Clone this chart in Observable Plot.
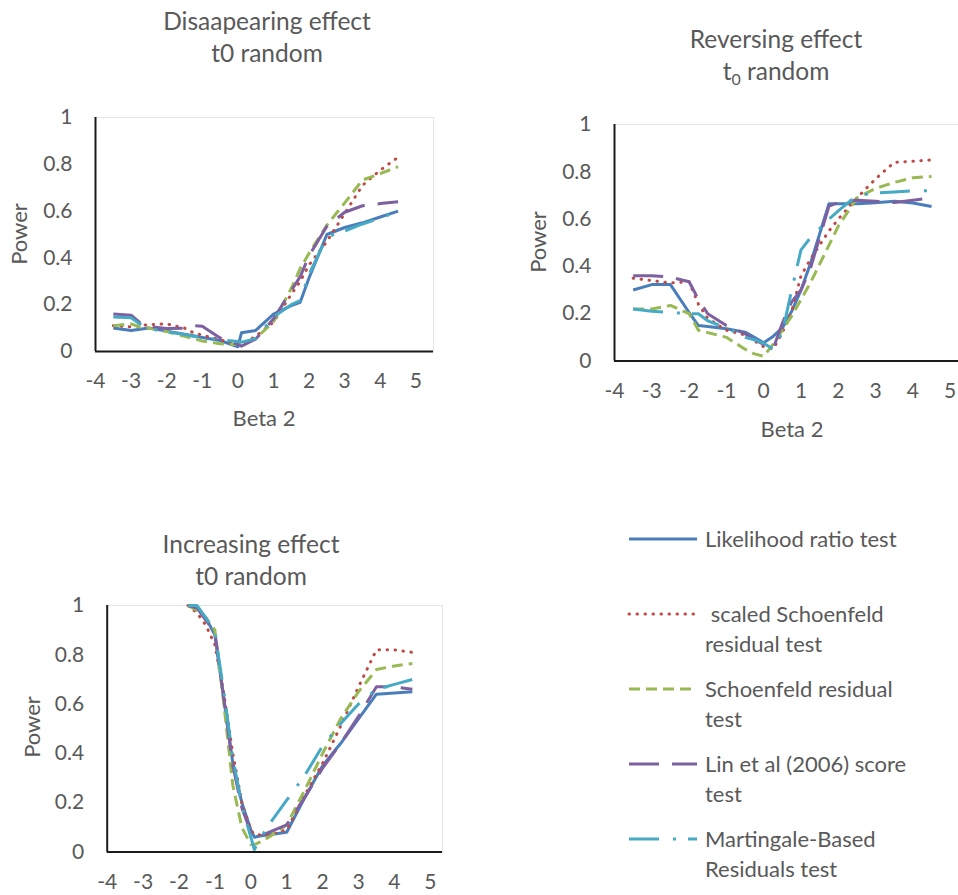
<!DOCTYPE html>
<html>
<head>
<meta charset="utf-8">
<script src="https://cdn.jsdelivr.net/npm/d3@7"></script>
<script src="https://cdn.jsdelivr.net/npm/@observablehq/plot@0.6"></script>
<style>
  body { margin: 0; background: #fff; }
  #page { position: relative; width: 958px; height: 895px; overflow: hidden; background: #fff;
          font-family: Lato, "Open Sans", sans-serif; color: #595959; }
  #page > svg, #page > div { position: absolute; }
  #overlay { left: 0; top: 0; pointer-events: none; }
</style>
</head>
<body>
<div id="page"></div>
<script>
// ---------------- data ----------------
const seriesNames = ["Likelihood ratio test", " scaled Schoenfeld residual test", "Schoenfeld residual test",
                     "Lin et al (2006) score test", "Martingale-Based Residuals test"];
const seriesColors = ["#4A7EBB", "#BE4B48", "#98B954", "#7D60A0", "#46AAC5"];
const seriesDash = ["none", "0.5,7.5", "11,6", "30,13", "30,14,3,12"];

const xTicks = [-4, -3, -2, -1, 0, 1, 2, 3, 4, 5];
const yTicks = [0, 0.2, 0.4, 0.6, 0.8, 1];

// Disappearing effect, t0 random
const xDis = [-3.5, -3, -2.75, -2.5, -2, -1.5, -1.25, -1, -0.5, 0, 0.1, 0.5, 1, 1.5, 1.75, 2, 2.5, 3, 3.5, 4, 4.5];
const disLRT    = [0.10, 0.09, 0.095, 0.10, 0.087, 0.074, 0.067, 0.06, 0.047, 0.02, 0.08, 0.09, 0.16, 0.196, 0.21, 0.315, 0.50, 0.53, 0.55, 0.575, 0.60];
const disScaled = [0.11, 0.105, 0.11, 0.115, 0.118, 0.10, 0.08, 0.07, 0.05, 0.03, 0.03, 0.065, 0.125, 0.245, 0.30, 0.37, 0.47, 0.59, 0.71, 0.775, 0.83];
const disSchoen = [0.11, 0.118, 0.104, 0.10, 0.085, 0.065, 0.055, 0.045, 0.033, 0.03, 0.032, 0.055, 0.127, 0.27, 0.355, 0.42, 0.54, 0.635, 0.733, 0.76, 0.79];
const disLin    = [0.16, 0.155, 0.123, 0.106, 0.098, 0.10, 0.11, 0.108, 0.058, 0.03, 0.023, 0.053, 0.14, 0.26, 0.32, 0.41, 0.535, 0.595, 0.623, 0.632, 0.64];
const disMart   = [0.147, 0.144, 0.118, 0.098, 0.085, 0.073, 0.065, 0.06, 0.05, 0.043, 0.04, 0.055, 0.148, 0.20, 0.218, 0.33, 0.49, 0.515, 0.545, 0.57, 0.60];

// Reversing effect, t0 random
const xRev = [-3.5, -3, -2.5, -2, -1.75, -1.5, -1, -0.5, -0.25, 0, 0.25, 0.5, 0.75, 1, 1.25, 1.75, 2, 2.5, 3, 3.5, 4, 4.5];
const revLRT    = [0.30, 0.323, 0.323, 0.205, 0.15, 0.146, 0.136, 0.122, 0.10, 0.077, 0.104, 0.14, 0.21, 0.30, 0.41, 0.665, 0.665, 0.665, 0.669, 0.675, 0.668, 0.653];
const revScaled = [0.35, 0.34, 0.33, 0.335, 0.24, 0.18, 0.13, 0.11, 0.085, 0.06, 0.05, 0.12, 0.21, 0.36, 0.43, 0.55, 0.60, 0.69, 0.77, 0.84, 0.845, 0.85];
const revSchoen = [0.22, 0.22, 0.235, 0.20, 0.13, 0.12, 0.10, 0.05, 0.03, 0.02, 0.07, 0.13, 0.19, 0.26, 0.33, 0.49, 0.57, 0.69, 0.73, 0.755, 0.775, 0.78];
const revLin    = [0.36, 0.36, 0.355, 0.335, 0.26, 0.20, 0.15, 0.115, 0.09, 0.07, 0.05, 0.16, 0.25, 0.30, 0.39, 0.655, 0.67, 0.68, 0.675, 0.67, 0.68, 0.69];
const revMart   = [0.22, 0.21, 0.205, 0.20, 0.20, 0.17, 0.14, 0.10, 0.09, 0.075, 0.05, 0.12, 0.30, 0.47, 0.52, 0.60, 0.635, 0.70, 0.71, 0.715, 0.72, 0.72];

// Increasing effect, t0 random
const xInc = [-1.75, -1.5, -1.25, -1, -0.75, -0.5, -0.25, 0, 0.1, 0.25, 0.5, 1, 1.5, 2, 2.5, 3, 3.5, 4, 4.5];
const incLRT    = [1.0, 0.99, 0.95, 0.88, 0.62, 0.36, 0.20, 0.09, 0.06, 0.065, 0.07, 0.08, 0.22, 0.35, 0.44, 0.54, 0.64, 0.645, 0.65];
const incScaled = [1.0, 0.97, 0.92, 0.84, 0.64, 0.40, 0.20, 0.09, 0.07, 0.07, 0.07, 0.09, 0.23, 0.36, 0.51, 0.67, 0.82, 0.82, 0.81];
const incSchoen = [1.0, 0.98, 0.95, 0.90, 0.60, 0.27, 0.10, 0.03, 0.03, 0.04, 0.06, 0.11, 0.25, 0.40, 0.54, 0.65, 0.74, 0.755, 0.765];
const incLin    = [1.0, 0.99, 0.94, 0.89, 0.62, 0.35, 0.18, 0.08, 0.06, 0.065, 0.08, 0.11, 0.22, 0.34, 0.44, 0.55, 0.67, 0.67, 0.66];
const incMart   = [1.0, 1.0, 0.95, 0.89, 0.65, 0.38, 0.19, 0.06, 0.01, 0.05, 0.11, 0.21, 0.31, 0.43, 0.52, 0.60, 0.66, 0.68, 0.70];

// ---------------- build ----------------
const page = document.getElementById("page");
const FONT = 'Lato, "Open Sans", sans-serif';
const TXT = "#595959";

function panel(xs, ys, box) {
  const data = [];
  ys.forEach((arr, si) => arr.forEach((v, i) => data.push({x: xs[i], y: v, s: si})));
  const marks = [
    Plot.frame({stroke: "#e4e4e4", strokeWidth: 1}),
    Plot.axisY({ticks: yTicks, tickFormat: d => String(d), tickSize: 0, tickPadding: 23, fontSize: 21, label: null}),
    Plot.axisX({ticks: xTicks, tickFormat: d => String(d), tickSize: 0, tickPadding: 22, fontSize: 21, label: null}),
  ];
  ys.forEach((arr, si) => {
    marks.push(Plot.line(data.filter(d => d.s === si), {
      x: "x", y: "y", stroke: seriesColors[si], strokeWidth: 3,
      strokeDasharray: seriesDash[si] === "none" ? undefined : seriesDash[si],
      strokeLinecap: si === 1 ? "round" : "butt", strokeLinejoin: "round"
    }));
  });
  marks.push(Plot.ruleX([-4], {stroke: "#1a1a1a", strokeWidth: 2}));
  marks.push(Plot.ruleY([0], {stroke: "#1a1a1a", strokeWidth: 2}));
  const svg = Plot.plot({
    width: box.w, height: box.h,
    marginLeft: box.ml, marginRight: box.mr, marginTop: box.mt, marginBottom: box.mb,
    x: {domain: [-4, box.xmax]},
    y: {domain: [0, 1]},
    style: {fontFamily: FONT, color: TXT, background: "transparent", overflow: "visible"},
    marks
  });
  svg.style.left = box.left + "px";
  svg.style.top = box.top + "px";
  page.appendChild(svg);
}

// plot areas (page coords): p1 x 95..433, y 117..351 ; p2 x 614..958, y 124..360.5 ; p3 x 106.7..442, y 605..851.5
panel(xDis, [disLRT, disScaled, disSchoen, disLin, disMart],
  {left: 0, top: 100, w: 440, h: 300, ml: 95, mr: 7, mt: 17, mb: 49, xmax: -4 + (433 - 95) / 35.6});
panel(xRev, [revLRT, revScaled, revSchoen, revLin, revMart],
  {left: 500, top: 110, w: 458, h: 300, ml: 114, mr: 0, mt: 14, mb: 49.5, xmax: -4 + (958 - 614) / 37.3});
panel(xInc, [incLRT, incScaled, incSchoen, incLin, incMart],
  {left: 0, top: 590, w: 442, h: 305, ml: 106.7, mr: 0, mt: 15, mb: 43.5, xmax: -4 + (442 - 106.7) / 35.9});

// ---------------- overlay: titles, axis labels, legend ----------------
const NS = "http://www.w3.org/2000/svg";
const ov = document.createElementNS(NS, "svg");
ov.setAttribute("id", "overlay");
ov.setAttribute("width", 958);
ov.setAttribute("height", 895);
ov.style.fontFamily = FONT;
page.appendChild(ov);

function text(str, x, y, size, anchor = "middle", rotate = false) {
  const t = document.createElementNS(NS, "text");
  t.setAttribute("x", x); t.setAttribute("y", y);
  t.setAttribute("font-size", size);
  t.setAttribute("fill", TXT);
  t.setAttribute("text-anchor", anchor);
  if (rotate) t.setAttribute("transform", `rotate(-90 ${x} ${y})`);
  t.textContent = str;
  ov.appendChild(t);
  return t;
}

// titles
text("Disaapearing effect", 267, 30, 24.5);
text("t0 random", 267, 62, 24.5);
text("Reversing effect", 776, 48, 24.5);
const t2 = text("", 776, 80, 24.5);
const s1 = document.createElementNS(NS, "tspan"); s1.textContent = "t"; t2.appendChild(s1);
const s2 = document.createElementNS(NS, "tspan"); s2.textContent = "0"; s2.setAttribute("font-size", 16); s2.setAttribute("dy", 5); t2.appendChild(s2);
const s3 = document.createElementNS(NS, "tspan"); s3.textContent = " random"; s3.setAttribute("dy", -5); t2.appendChild(s3);
text("Increasing effect", 251, 553, 24.5);
text("t0 random", 251, 585, 24.5);

// axis titles
text("Power", 27, 234, 22, "middle", true);
text("Power", 546, 242, 22, "middle", true);
text("Power", 40, 727, 22, "middle", true);
text("Beta 2", 264, 426, 22);
text("Beta 2", 792, 437, 22);

// legend
const legendRows = [
  {y: 539, lines: ["Likelihood ratio test"]},
  {y: 614, lines: [" scaled Schoenfeld", "residual test"]},
  {y: 689, lines: ["Schoenfeld residual", "test"]},
  {y: 764, lines: ["Lin et al (2006) score", "test"]},
  {y: 839, lines: ["Martingale-Based", "Residuals test"]},
];
legendRows.forEach((r, i) => {
  const l = document.createElementNS(NS, "line");
  l.setAttribute("x1", 629); l.setAttribute("x2", 697);
  l.setAttribute("y1", r.y); l.setAttribute("y2", r.y);
  l.setAttribute("stroke", seriesColors[i]);
  l.setAttribute("stroke-width", 3);
  if (seriesDash[i] !== "none") l.setAttribute("stroke-dasharray", seriesDash[i]);
  l.setAttribute("stroke-linecap", i === 1 ? "round" : "butt");
  ov.appendChild(l);
  r.lines.forEach((s, j) => {
    const t = text(s, 705, r.y + 7.5 + j * 30, 22, "start");
    t.setAttribute("xml:space", "preserve");
    t.style.whiteSpace = "pre";
  });
});
</script>
</body>
</html>
